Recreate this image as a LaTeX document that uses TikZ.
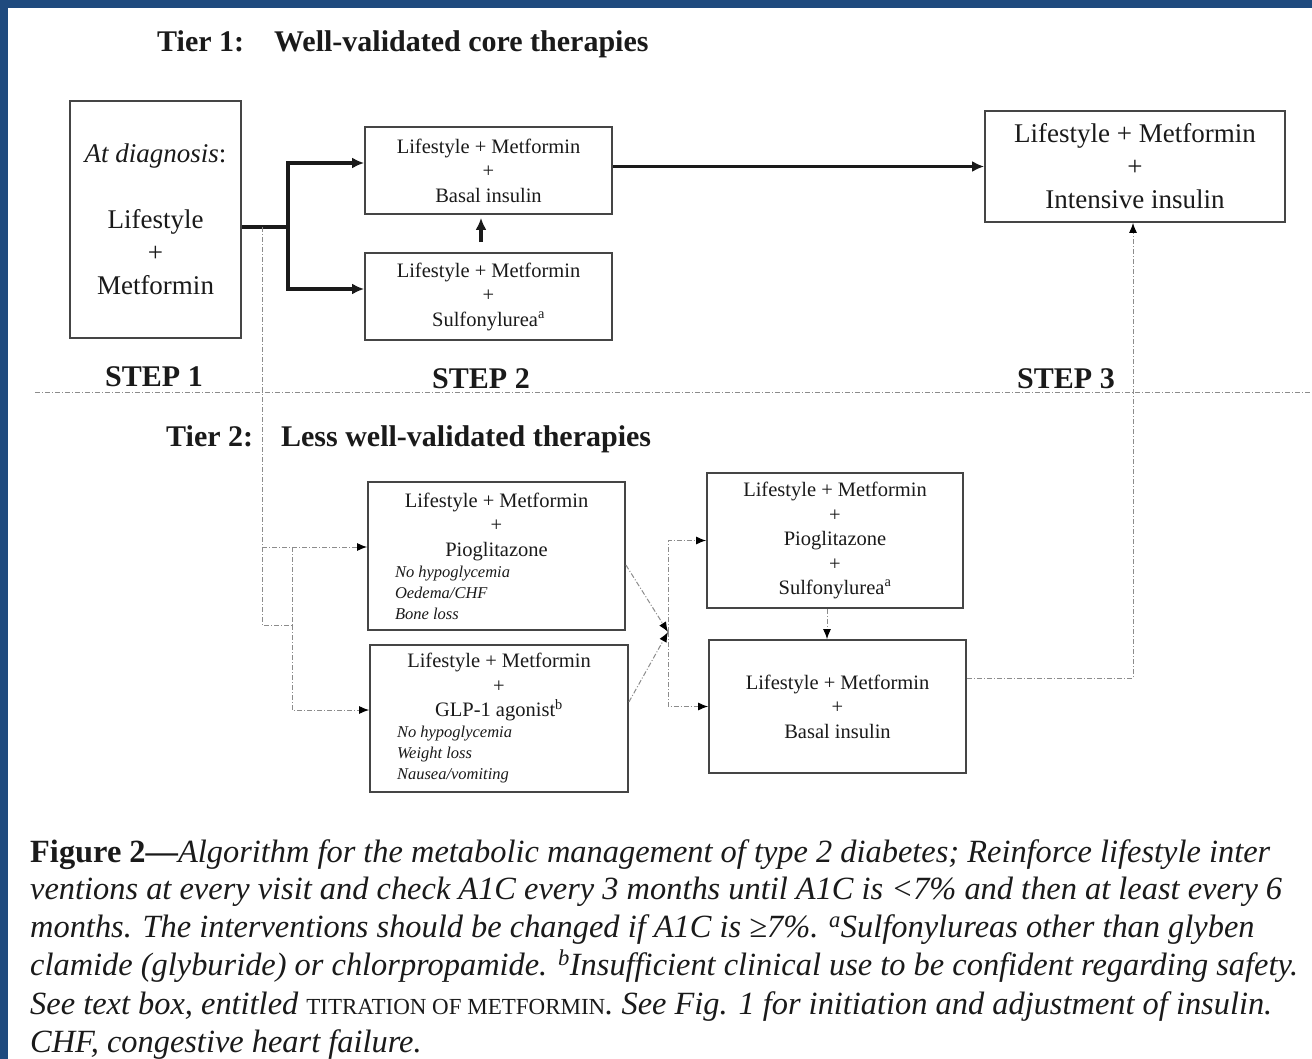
\documentclass[tikz,border=0pt]{standalone}
\usepackage{fontspec}
\setmainfont{Liberation Serif}
\usetikzlibrary{arrows.meta}
\definecolor{frameblue}{HTML}{1F4A7E}
\definecolor{boxgray}{HTML}{454545}
\definecolor{dotgray}{HTML}{8C8C8C}
\definecolor{inkblack}{HTML}{1A1A1A}
\begin{document}
\begin{tikzpicture}[x=1pt,y=-1pt,
    therapy/.style={draw=boxgray, line width=1.8pt, inner sep=0pt, align=center, text=inkblack},
    smalltxt/.style={font=\fontsize{20.5}{24.5}\selectfont},
    bigtxt/.style={font=\fontsize{27}{33}\selectfont},
    header/.style={font=\fontsize{30}{36}\selectfont\bfseries, text=inkblack, inner sep=0pt},
    caption/.style={font=\fontsize{32.4}{38}\selectfont\itshape, text=inkblack, inner sep=0pt, anchor=base west},
    mainline/.style={line width=3.2pt, inkblack},
    mainarrow/.style={mainline, -{Latex[length=12pt,width=11pt]}},
    weakline/.style={draw=dotgray, line width=1pt, dash pattern=on 5pt off 2pt on 1pt off 2pt},
    weakarrow/.style={weakline, -{Latex[length=10pt,width=8pt,color=black]}}]
  % page and frame
  \fill[white] (0,0) rectangle (1312,1059);
  \fill[frameblue] (0,0) rectangle (1312,8);
  \fill[frameblue] (0,0) rectangle (8,1059);
  \useasboundingbox (0,0) rectangle (1312,1059);

  % tier 1
  \node[header, anchor=base west] (tier1) at (157,52) {Tier 1:\hspace{20pt} Well-validated core therapies};
  \node[therapy, bigtxt, minimum width=171pt, minimum height=237pt] (dx) at (155.5,219.5)
    {\textit{At diagnosis}:\\[33pt] Lifestyle\\ +\\ Metformin};
  \node[therapy, smalltxt, minimum width=247pt, minimum height=87pt] (basal) at (488.5,170.5)
    {Lifestyle + Metformin\\ +\\ Basal insulin};
  \node[therapy, smalltxt, minimum width=247pt, minimum height=87pt] (sulf) at (488.5,296.5)
    {Lifestyle + Metformin\\ +\\ Sulfonylurea\textsuperscript{a}};
  \node[therapy, bigtxt, minimum width=300pt, minimum height=111pt] (intens) at (1135,166.5)
    {Lifestyle + Metformin\\ +\\ Intensive insulin};

  \coordinate (fork) at (288,227);
  \coordinate (drop) at (262,227);
  \draw[mainline] ([yshift=-7.5pt]dx.east) -- (fork);
  \draw[mainarrow] (fork) |- ([yshift=7.5pt]basal.west);
  \draw[mainarrow] (fork) |- ([yshift=7.5pt]sulf.west);
  \draw[mainarrow] ([yshift=4pt]basal.east) -- ([yshift=4pt]basal.east -| intens.west);
  \draw[mainarrow] ([xshift=-7.5pt,yshift=10pt]sulf.north) -- ([xshift=-7.5pt,yshift=-3pt]basal.south);

  % steps
  \node[header, anchor=base] (step1) at (154,386) {STEP 1};
  \node[header, anchor=base] (step2) at (481,388) {STEP 2};
  \node[header, anchor=base] (step3) at (1066,388) {STEP 3};
  \draw[weakline] (35,392) -- (1312,392);

  % tier 2
  \node[header, anchor=base west] (tier2) at (166,446) {Tier 2:\hspace{18pt} Less well-validated therapies};
  \node[therapy, minimum width=257pt, minimum height=148pt] (pio) at (496.5,556)
    {\parbox{203pt}{\centering\fontsize{20.5}{24.5}\selectfont Lifestyle + Metformin\\ +\\ Pioglitazone\par
     \raggedright\fontsize{16.5}{21}\selectfont\itshape No hypoglycemia\\ Oedema/CHF\\ Bone loss\par}};
  \node[therapy, minimum width=258pt, minimum height=147pt] (glp) at (499,718.5)
    {\parbox{204pt}{\centering\fontsize{20.5}{24.5}\selectfont Lifestyle + Metformin\\ +\\ GLP-1 agonist\textsuperscript{b}\par
     \raggedright\fontsize{16.5}{21}\selectfont\itshape No hypoglycemia\\ Weight loss\\ Nausea/vomiting\par}};
  \node[therapy, smalltxt, minimum width=256pt, minimum height=135pt] (piosu) at (835,540.5)
    {Lifestyle + Metformin\\ +\\ Pioglitazone\\ +\\ Sulfonylurea\textsuperscript{a}};
  \node[therapy, smalltxt, minimum width=257pt, minimum height=133pt] (basal2) at (837.5,706.5)
    {Lifestyle + Metformin\\ +\\ Basal insulin};

  \coordinate (split) at (292,625);
  \coordinate (merge) at (668,632);
  \draw[weakline] (drop) |- (split);
  \draw[weakarrow] ([yshift=9pt]pio.west -| drop) -- ([yshift=9pt]pio.west);
  \draw[weakline] ([yshift=9pt]pio.west -| split) -- (split);
  \draw[weakarrow] (split) |- ([yshift=8.5pt]glp.west);
  \draw[weakarrow] ([yshift=-9pt]pio.east) -- (merge);
  \draw[weakarrow] ([yshift=16.5pt]glp.east) -- (merge);
  \draw[weakarrow] (merge) |- (piosu.west);
  \draw[weakarrow] (merge) |- (basal2.west);
  \draw[weakarrow] ([xshift=-8pt]piosu.south) -- ([xshift=-8pt]piosu.south |- basal2.north);
  \draw[weakarrow] ([yshift=28.5pt]basal2.east) -| ([xshift=-2pt]intens.south);

  % caption
  \node[caption] (cap1) at (30,862) {\upshape\bfseries Figure 2—\mdseries\itshape Algorithm for the metabolic management of type 2 diabetes; Reinforce lifestyle inter};
  \node[caption] (cap2) at (30,899) {ventions at every visit and check A1C every 3 months until A1C is <7\% and then at least every 6};
  \node[caption] (cap3) at (30,937) {months. The interventions should be changed if A1C is ≥7\%. \textsuperscript{a}Sulfonylureas other than glyben};
  \node[caption] (cap4) at (30,975) {clamide (glyburide) or chlorpropamide. \textsuperscript{b}Insufficient clinical use to be confident regarding safety.};
  \node[caption] (cap5) at (30,1014) {See text box, entitled {\upshape\fontsize{23}{38}\selectfont TITRATION OF METFORMIN}. See Fig. 1 for initiation and adjustment of insulin.};
  \node[caption] (cap6) at (30,1052) {CHF, congestive heart failure.};
\end{tikzpicture}
\end{document}
